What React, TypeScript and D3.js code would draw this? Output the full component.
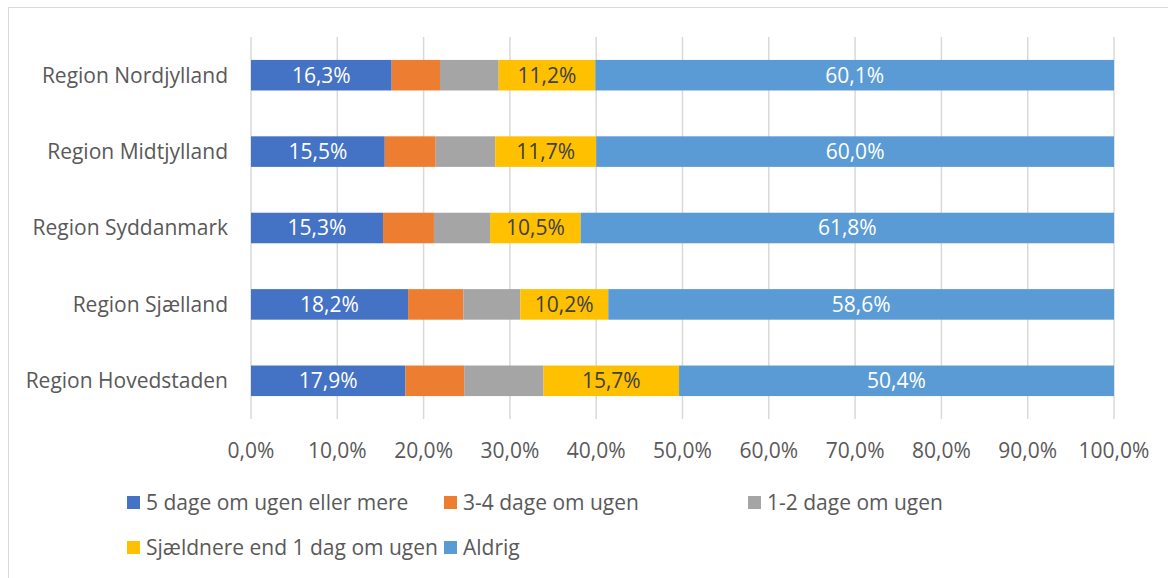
import * as d3 from 'd3';
import React, { useEffect, useRef } from 'react';

const regions = ['Region Nordjylland', 'Region Midtjylland', 'Region Syddanmark', 'Region Sjælland', 'Region Hovedstaden'];
const seriesNames = ['5 dage om ugen eller mere', '3-4 dage om ugen', '1-2 dage om ugen', 'Sjældnere end 1 dag om ugen', 'Aldrig'];
const colors = ['#4472C4', '#ED7D31', '#A5A5A5', '#FFC000', '#5B9BD5'];

const fiveDays = [16.3, 15.5, 15.3, 18.2, 17.9];
const threeFour = [5.6, 5.9, 5.9, 6.4, 6.8];
const oneTwo = [6.8, 6.9, 6.5, 6.6, 9.2];
const rarely = [11.2, 11.7, 10.5, 10.2, 15.7];
const never = [60.1, 60.0, 61.8, 58.6, 50.4];

const showLabel = [true, false, false, true, true];
const labelColor = ['#ffffff', '#ffffff', '#ffffff', '#404040', '#ffffff'];
const tickValues = [0, 10, 20, 30, 40, 50, 60, 70, 80, 90, 100];

const FONT = 'Open Sans, sans-serif';
const FS = 21;

function App() {
    const ref = useRef(null);

    useEffect(() => {
        const svg = d3.select(ref.current);
        svg.selectAll('*').remove();

        const W = 1168, H = 578;
        const left = 251, right = 1114, top = 37, bottom = 419;

        svg.append('rect')
            .attr('x', 8.5).attr('y', 7.5)
            .attr('width', W + 20).attr('height', H + 20)
            .attr('fill', '#fff').attr('stroke', '#d9d9d9');

        const rows = regions.map((r, i) => ({
            region: r,
            values: [fiveDays[i], threeFour[i], oneTwo[i], rarely[i], never[i]],
        }));

        const x = d3.scaleLinear().domain([0, 100]).range([left, right]);
        const y = d3.scaleBand().domain(regions).range([top, bottom]).paddingInner(0.6).paddingOuter(0.3);

        // gridlines
        svg.append('g').selectAll('line')
            .data(tickValues)
            .join('line')
            .attr('x1', d => x(d)).attr('x2', d => x(d))
            .attr('y1', top).attr('y2', bottom)
            .attr('stroke', '#d9d9d9').attr('stroke-width', 1.5);

        // tick labels
        svg.append('g').selectAll('text')
            .data(tickValues)
            .join('text')
            .attr('x', d => x(d)).attr('y', 451)
            .attr('dy', '0.35em')
            .attr('text-anchor', 'middle')
            .attr('font-family', FONT).attr('font-size', FS)
            .attr('fill', '#595959')
            .text(d => d.toFixed(1).replace('.', ',') + '%');

        // category labels
        svg.append('g').selectAll('text')
            .data(regions)
            .join('text')
            .attr('x', 228).attr('y', d => y(d) + y.bandwidth() / 2)
            .attr('dy', '0.35em')
            .attr('text-anchor', 'end')
            .attr('font-family', FONT).attr('font-size', FS)
            .attr('fill', '#595959')
            .text(d => d);

        rows.forEach(row => {
            let acc = 0;
            const g = svg.append('g');
            row.values.forEach((v, k) => {
                const x0 = x(acc), x1 = x(acc + v);
                g.append('rect')
                    .attr('x', x0).attr('y', y(row.region))
                    .attr('width', x1 - x0).attr('height', y.bandwidth())
                    .attr('fill', colors[k]);
                if (showLabel[k]) {
                    g.append('text')
                        .attr('x', (x0 + x1) / 2)
                        .attr('y', y(row.region) + y.bandwidth() / 2)
                        .attr('dy', '0.35em')
                        .attr('text-anchor', 'middle')
                        .attr('font-family', FONT).attr('font-size', FS)
                        .attr('fill', labelColor[k])
                        .text(v.toFixed(1).replace('.', ',') + '%');
                }
                acc += v;
            });
        });

        // legend
        const legendPos = [[127, 503], [444, 503], [748, 503], [127, 548], [444, 548]];
        const lg = svg.append('g');
        seriesNames.forEach((name, k) => {
            const [lx, ly] = legendPos[k];
            lg.append('rect')
                .attr('x', lx).attr('y', ly - 7)
                .attr('width', 13).attr('height', 13)
                .attr('fill', colors[k]);
            lg.append('text')
                .attr('x', lx + 19).attr('y', ly)
                .attr('dy', '0.35em')
                .attr('font-family', FONT).attr('font-size', FS)
                .attr('fill', '#595959')
                .text(name);
        });
    }, []);

    return (
        <svg ref={ref} width={1168} height={578} style={{ position: 'absolute', left: 0, top: 0 }}></svg>
    );
}

export default App;
